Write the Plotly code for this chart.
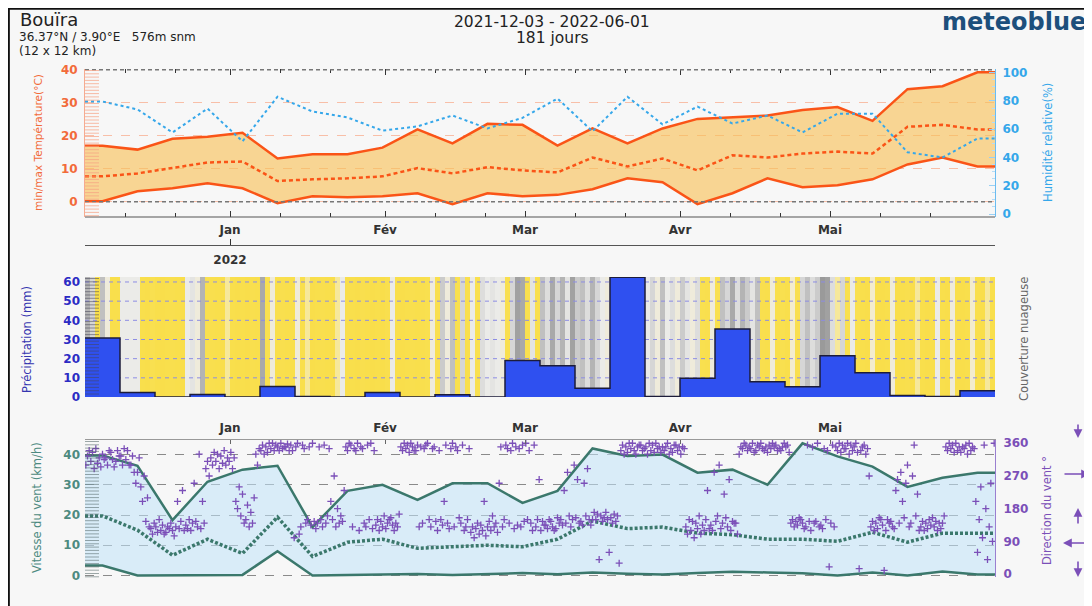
import plotly.graph_objects as go
import pandas as pd

# ---------------- data ----------------
START = pd.Timestamp("2021-12-03")
END = pd.Timestamp("2022-06-03")
N_WEEKS = 26

month_ticks = ["2022-01-01", "2022-02-01", "2022-03-01", "2022-04-01", "2022-05-01"]
month_labels = ["Jan", "Fév", "Mar", "Avr", "Mai"]
minor_ticks = ["2021-12-11", "2021-12-21", "2022-01-11", "2022-01-21", "2022-02-11", "2022-02-21",
               "2022-03-11", "2022-03-21", "2022-04-11", "2022-04-21", "2022-05-11", "2022-05-21"]
year_ticks = ["2022-01-01"]
year_labels = ["2022"]

temp_max = [17.0, 15.8, 19.1, 19.7, 20.9, 13.1, 14.4, 14.4, 16.4, 21.9, 17.7, 23.6, 23.3,
            17.0, 22.2, 17.7, 22.2, 25.1, 25.5, 26.1, 27.8, 28.7, 24.5, 34.1, 35.0, 39.2]
temp_min = [0.2, 3.2, 4.1, 5.6, 4.1, -0.4, 1.7, 1.4, 1.7, 2.6, -0.7, 2.6, 1.7,
            2.1, 3.8, 7.1, 5.9, -0.7, 2.6, 7.1, 4.4, 5.0, 6.8, 11.3, 13.4, 10.7]
temp_mean = [7.7, 8.6, 10.2, 11.9, 12.2, 6.3, 6.8, 7.1, 7.7, 10.2, 8.6, 10.5, 9.5,
             8.9, 13.4, 10.7, 13.1, 9.5, 14.1, 13.4, 14.6, 15.2, 14.6, 22.7, 23.3, 21.9]
humidity = [79.6, 74.0, 57.7, 74.6, 51.4, 83.0, 72.5, 68.3, 59.0, 62.0, 69.7, 60.6, 68.0,
            81.7, 58.5, 83.0, 63.4, 76.0, 64.0, 69.7, 57.7, 71.0, 71.0, 43.7, 40.0, 53.5]

precip = [30.8, 2.3, 0.0, 1.3, 0.0, 5.5, 0.3, 0.0, 2.3, 0.0, 1.2, 0.0, 19.0,
          16.3, 4.6, 62.5, 0.3, 9.8, 35.5, 7.9, 5.4, 21.5, 12.7, 0.8, 0.3, 3.2]

# daily cloud cover (%) estimated from the background stripes
cloud = [
    75, 60, 10, 70, 40, 10, 10, 45, 45, 45, 45,
    10, 5, 25, 10, 5, 10, 15, 10, 5,
    45, 50, 40, 75,
    20, 15, 10, 5, 30, 10, 5, 10, 5, 15, 10,
    80, 20, 40, 10, 15, 10, 10, 40,
    10, 30, 5, 10, 15, 10, 5, 30, 45,
    5, 10, 5, 15, 10, 5, 10, 5, 15, 45,
    10, 5, 10, 15, 10, 15, 20, 40, 15,
    65, 40, 70, 20, 60, 15, 45, 20, 55,
    45, 50, 45, 40, 15, 60, 85, 80, 20, 50, 15,
    70, 55, 80, 60, 75, 50, 85, 65, 70, 55, 75, 60,
    45, 40, 70, 60, 75, 65, 70, 60, 55,
    45, 60, 40, 70, 45, 55, 40, 65, 50, 40, 55,
    20, 15, 40, 20, 70, 60, 80, 55, 75, 65, 50, 70,
    15, 10, 40, 10, 20, 10, 35, 15,
    60, 70, 55, 65, 90, 85, 55, 30, 60, 20, 45, 25,
    10, 5, 35, 10, 5, 10, 40, 5, 10, 15, 5, 30, 10, 5, 10, 45, 10, 5, 40, 10, 5, 10, 35, 10, 5, 30, 10,
]

wind_max = [39.7, 36.3, 18.3, 31.0, 35.0, 36.3, 16.0, 28.0, 30.0, 25.0, 30.5, 30.5, 24.0,
            28.0, 42.0, 39.5, 40.0, 34.0, 35.0, 30.0, 43.7, 39.4, 36.0, 29.3, 32.3, 34.0]
wind_mean = [19.7, 15.0, 6.7, 12.0, 7.3, 19.3, 6.3, 11.0, 12.0, 9.0, 9.5, 10.0, 9.5,
             12.0, 18.0, 15.5, 16.0, 14.0, 13.5, 12.0, 12.0, 11.3, 14.3, 11.0, 14.0, 14.0]
wind_min = [3.3, 0.0, 0.0, 0.0, 0.2, 8.0, 0.0, 0.2, 0.3, 0.5, 0.2, 0.5, 0.8,
            0.4, 1.0, 0.6, 0.3, 0.8, 1.2, 1.0, 0.7, 0.0, 1.0, 0.0, 1.3, 0.3]

# wind direction (deg), three readings per day (04h, 12h, 20h)
wind_dir = [
    (300, 325, 340), (310, 335, 290), (345, 305, 320), (295, 330, 315), (320, 300, 340),
    (335, 315, 295), (310, 340, 325), (325, 300, 345), (315, 340, 300), (300, 325, 280),
    (250, 280, 320), (240, 200, 270), (145, 210, 130), (125, 110, 140), (130, 115, 150),
    (120, 135, 110), (115, 130, 125), (140, 120, 105), (130, 200, 125), (145, 230, 120),
    (135, 125, 150), (120, 140, 250), (145, 130, 330), (125, 200, 140), (290, 310, 270),
    (320, 300, 335), (310, 330, 290), (325, 305, 340), (300, 320, 310), (335, 290, 320),
    (200, 180, 240), (160, 220, 140), (150, 190, 130), (170, 140, 210), (330, 300, 345),
    (340, 355, 330), (350, 335, 360), (345, 360, 340), (355, 350, 340), (360, 345, 350),
    (350, 358, 340), (355, 340, 100), (350, 360, 110), (130, 355, 345), (140, 150, 350),
    (135, 360, 145), (125, 140, 350), (150, 130, 355), (140, 160, 345), (200, 150, 270),
    (130, 180, 140), (160, 145, 230), (350, 340, 360), (355, 130, 345), (340, 360, 120),
    (350, 345, 140), (130, 355, 150), (360, 125, 340), (135, 150, 120), (145, 130, 160),
    (125, 140, 150), (155, 135, 120), (140, 130, 165), (350, 340, 360), (345, 355, 335),
    (360, 350, 340), (340, 355, 130), (350, 140, 345), (355, 360, 150), (130, 345, 350),
    (145, 120, 340), (150, 135, 200), (355, 140, 125), (345, 360, 130), (350, 340, 155),
    (140, 355, 120), (130, 150, 345), (115, 130, 100), (125, 140, 110), (135, 120, 200),
    (105, 130, 145), (120, 160, 130), (140, 115, 250), (350, 130, 150), (355, 345, 140),
    (340, 360, 125), (350, 135, 345), (130, 355, 145), (360, 150, 340), (140, 120, 355),
    (130, 150, 260), (120, 145, 135), (135, 125, 150), (145, 130, 120), (125, 155, 140),
    (150, 135, 230), (140, 280, 160), (130, 150, 300), (155, 260, 140), (145, 135, 250),
    (160, 290, 150), (135, 150, 170), (150, 165, 40), (160, 145, 155), (170, 150, 60),
    (155, 140, 165), (145, 160, 30), (340, 355, 330), (350, 335, 360), (345, 360, 340),
    (330, 350, 355), (355, 340, 345), (350, 330, 360), (340, 355, 335), (360, 345, 350),
    (335, 350, 340), (350, 360, 330), (345, 335, 355), (355, 340, 350), (330, 350, 345),
    (130, 110, 150), (120, 145, 100), (140, 125, 160), (110, 135, 120), (150, 230, 125),
    (135, 120, 280), (145, 160, 300), (125, 140, 220), (155, 130, 260), (120, 145, 140),
    (140, 110, 330), (350, 345, 360), (355, 340, 350), (345, 360, 335), (340, 355, 350),
    (360, 345, 340), (350, 335, 355), (345, 360, 350), (355, 340, 345), (340, 350, 360),
    (350, 355, 335), (140, 150, 130), (145, 135, 155), (150, 140, 125), (130, 355, 145),
    (120, 350, 140), (145, 360, 130), (135, 125, 345), (150, 340, 20), (140, 355, 130),
    (350, 340, 360), (335, 355, 345), (345, 360, 330), (355, 340, 350), (360, 335, 15),
    (340, 350, 355), (330, 345, 270), (130, 145, 120), (140, 125, 155), (150, 135, 10),
    (120, 150, 140), (145, 130, 125), (230, 260, 140), (280, 200, 155), (250, 300, 130),
    (140, 270, 355), (160, 220, 120), (130, 145, 120), (140, 125, 150), (135, 155, 130),
    (145, 120, 140), (125, 140, 160), (350, 340, 360), (345, 355, 335), (360, 340, 350),
    (335, 350, 345), (355, 330, 360), (340, 350, 345), (200, 60, 150), (240, 100, 355),
    (180, 40, 130), (250, 90, 360),
]

# ---------------- derived x positions ----------------
week_mid = [START + pd.Timedelta(days=3.5 + 7 * k) for k in range(N_WEEKS)]
week_edges = [START + pd.Timedelta(days=7 * k) for k in range(N_WEEKS + 1)]
x_ext = [START] + week_mid + [END]


def ext(v):
    return [v[0]] + list(v) + [v[-1]]


day_edges = [START + pd.Timedelta(days=i) for i in range(len(cloud) + 1)]
dir_x, dir_y = [], []
for d, vals in enumerate(wind_dir):
    for h, v in zip((4, 12, 20), vals):
        dir_x.append(START + pd.Timedelta(days=d, hours=h))
        dir_y.append(v)

# ---------------- style / geometry ----------------
F = "DejaVu Sans"
ORANGE = "#fa5417"
ORANGE_TXT = "#f26b3a"
BLUE_H = "#35a7ea"
PREC_TXT = "#2b2bc4"
WIND = "#3b786c"
WIND_TXT = "#4d8a80"
PURPLE = "#7b4fb8"

OFF = 8  # page body margin
W, H = 1092 - OFF, 606 - OFF
L, R, T, B = 85 - OFF, 97, 69 - OFF, 29
PW, PH = W - L - R, H - T - B


def px_x(px):
    return (px - OFF - L) / PW


def px_y(py):
    return (H - B - (py - OFF)) / PH


fig = go.Figure()

# temperature panel
fig.add_trace(go.Scatter(x=x_ext, y=ext(temp_min), mode="lines", line=dict(color=ORANGE, width=2.5),
                         xaxis="x", yaxis="y", showlegend=False, hoverinfo="skip"))
fig.add_trace(go.Scatter(x=x_ext, y=ext(temp_max), mode="lines", line=dict(color=ORANGE, width=2.5),
                         fill="tonexty", fillcolor="rgba(248,192,85,0.62)",
                         xaxis="x", yaxis="y", showlegend=False, hoverinfo="skip"))
fig.add_trace(go.Scatter(x=x_ext, y=ext(temp_mean), mode="lines",
                         line=dict(color=ORANGE, width=2.5, dash="4px,3px"),
                         xaxis="x", yaxis="y", showlegend=False, hoverinfo="skip"))
fig.add_trace(go.Scatter(x=x_ext, y=ext(humidity), mode="lines",
                         line=dict(color=BLUE_H, width=2, dash="3px,3px"),
                         xaxis="x", yaxis="y2", showlegend=False, hoverinfo="skip"))
# empty trace so that the year axis is drawn
fig.add_trace(go.Scatter(x=[START], y=[0], mode="markers", marker=dict(opacity=0, size=1),
                         xaxis="x4", yaxis="y", showlegend=False, hoverinfo="skip"))

# precipitation panel
fig.add_trace(go.Heatmap(x=day_edges, y=[0, 62.6], z=[cloud], zmin=0, zmax=100, showscale=False,
                         colorscale=[[0.0, "#f9de4a"], [0.25, "#f9e050"], [0.33, "#f4ecc8"],
                                     [0.45, "#ebebe8"], [0.6, "#d6d6d6"], [0.8, "#a9a9a9"],
                                     [1.0, "#8a8a8a"]],
                         xaxis="x2", yaxis="y3", hoverinfo="skip"))
gx, gy = [], []
for v in [10, 20, 30, 40, 50, 60]:
    gx += [START, END, None]
    gy += [v, v, None]
fig.add_trace(go.Scatter(x=gx, y=gy, mode="lines", line=dict(color="#8c8ce4", width=1, dash="4px,4px"),
                         xaxis="x2", yaxis="y3", showlegend=False, hoverinfo="skip"))
fig.add_trace(go.Scatter(x=week_edges, y=list(precip) + [precip[-1]], mode="lines",
                         line=dict(color="#1c1c3a", width=1.5, shape="hv"),
                         fill="tozeroy", fillcolor="#2f50f0",
                         xaxis="x2", yaxis="y3", showlegend=False, hoverinfo="skip"))

# wind panel
fig.add_trace(go.Scatter(x=x_ext, y=ext(wind_min), mode="lines", line=dict(color=WIND, width=2.5),
                         xaxis="x3", yaxis="y4", showlegend=False, hoverinfo="skip"))
fig.add_trace(go.Scatter(x=x_ext, y=ext(wind_max), mode="lines", line=dict(color=WIND, width=2.5),
                         fill="tonexty", fillcolor="rgba(193,227,249,0.55)",
                         xaxis="x3", yaxis="y4", showlegend=False, hoverinfo="skip"))
fig.add_trace(go.Scatter(x=x_ext, y=ext(wind_mean), mode="lines",
                         line=dict(color=WIND, width=3.5, dash="3px,2px"),
                         xaxis="x3", yaxis="y4", showlegend=False, hoverinfo="skip"))
fig.add_trace(go.Scatter(x=dir_x, y=dir_y, mode="markers",
                         marker=dict(symbol="cross-thin", size=5, color=PURPLE,
                                     line=dict(color=PURPLE, width=1.3)),
                         xaxis="x3", yaxis="y5", showlegend=False, hoverinfo="skip"))

tick_font = dict(family=F, size=12, color="#333", weight="bold")
xcommon = dict(type="date", range=[START, END], showgrid=False, zeroline=False)

fig.update_layout(
    width=W, height=H,
    margin=dict(l=L, r=R, t=T, b=B),
    paper_bgcolor="#f7f7f7", plot_bgcolor="#f7f7f7",
    font=dict(family=F),
    xaxis=dict(**xcommon, domain=[0, 1], anchor="y", tickvals=month_ticks, ticktext=month_labels,
               ticks="inside", ticklen=6, tickcolor="#333", showline=False,
               mirror="ticks", tickfont=tick_font, ticklabelstandoff=4,
               minor=dict(tickvals=minor_ticks, ticks="inside", ticklen=4, tickcolor="#333")),
    xaxis4=dict(**xcommon, overlaying="x", anchor="free", position=px_y(245), side="bottom",
                tickvals=year_ticks, ticktext=year_labels, ticks="inside", ticklen=6,
                tickcolor="#333", showline=True, linecolor="#555", tickfont=tick_font,
                ticklabelstandoff=4),
    yaxis=dict(domain=[px_y(217), 1], range=[-4.6, 40.2], tickvals=[0, 10, 20, 30, 40],
               showgrid=True, gridcolor="#f8bfa8", griddash="dash", gridwidth=1, zeroline=False,
               showline=True, linecolor="#f6ab90", ticks="", ticklabelstandoff=4,
               tickfont=dict(family=F, size=12, color=ORANGE_TXT, weight="bold")),
    yaxis2=dict(overlaying="y", side="right", range=[-2.1, 102.6], tickvals=[0, 20, 40, 60, 80, 100],
                showgrid=False, zeroline=False, showline=True, linecolor="#6bbcf0",
                ticks="inside", ticklen=6, tickcolor="#9ad0f4", ticklabelstandoff=4,
                minor=dict(tickvals=[v for v in range(5, 100, 5) if v % 20], ticks="inside",
                           ticklen=3, tickcolor="#b5dcf6"),
                tickfont=dict(family=F, size=12, color=BLUE_H, weight="bold")),
    xaxis2=dict(**xcommon, domain=[0, 1], anchor="y3", matches="x", showticklabels=False,
                ticks="", showline=False),
    yaxis3=dict(domain=[px_y(397), px_y(277)], range=[0, 62.6], tickvals=[0, 10, 20, 30, 40, 50, 60],
                showgrid=False, zeroline=False, showline=False, ticks="", ticklabelstandoff=4,
                tickfont=dict(family=F, size=12, color=PREC_TXT, weight="bold")),
    xaxis3=dict(**xcommon, domain=[0, 1], anchor="y4", matches="x", side="top",
                tickvals=month_ticks, ticktext=month_labels, ticks="inside", ticklen=4,
                tickcolor="#666", showline=True, linecolor="#999", tickfont=tick_font,
                ticklabelstandoff=2),
    yaxis4=dict(domain=[0, px_y(440)], range=[-0.5, 44.8], tickvals=[0, 10, 20, 30, 40],
                showgrid=True, gridcolor="#8a8a8a", griddash="dash", zeroline=False,
                showline=False, ticks="", ticklabelstandoff=4,
                tickfont=dict(family=F, size=12, color=WIND_TXT, weight="bold")),
    yaxis5=dict(overlaying="y4", side="right", range=[-8, 369], tickvals=[0, 90, 180, 270, 360],
                showgrid=False, zeroline=False, showline=True, linecolor="#9a7fd0",
                ticks="", ticklabelstandoff=5,
                tickfont=dict(family=F, size=12, color=PURPLE, weight="bold")),
)

shapes = []
# frame (top and left dark rules)
shapes.append(dict(type="line", xref="paper", yref="paper", x0=px_x(8), x1=px_x(1092), y0=px_y(8.6), y1=px_y(8.6),
                   line=dict(color="#111", width=2.5)))
shapes.append(dict(type="line", xref="paper", yref="paper", x0=px_x(8.6), x1=px_x(8.6), y0=px_y(606), y1=px_y(8),
                   line=dict(color="#111", width=2.5)))
# bottom rule of the temperature panel
shapes.append(dict(type="line", xref="paper", yref="paper", x0=0, x1=1, y0=px_y(217), y1=px_y(217),
                   line=dict(color="#555", width=1.2)))
# reference lines 0 and 40 °C
for v in (0, 40):
    shapes.append(dict(type="line", xref="paper", yref="y", x0=0, x1=1, y0=v, y1=v,
                       line=dict(color="#777", width=1.5, dash="4px,3px"), layer="above"))


# left hatching of each panel
def hatch(top, bot, color):
    y = top + 1.5
    while y < bot:
        shapes.append(dict(type="line", xref="paper", yref="paper", x0=0, x1=px_x(99),
                           y0=px_y(y), y1=px_y(y), line=dict(color=color, width=1), layer="above"))
        y += 3.3


hatch(69, 217, "rgba(246,160,130,0.7)")
hatch(277, 397, "rgba(70,70,90,0.55)")
hatch(440, 577, "rgba(80,100,100,0.55)")
fig.update_layout(shapes=shapes)

ann = []


def text(x, y, s, size, color, xanchor="left", angle=0, weight="normal"):
    ann.append(dict(x=px_x(x), y=px_y(y), xref="paper", yref="paper", text=s, showarrow=False,
                    xanchor=xanchor, yanchor="middle", textangle=angle,
                    font=dict(family=F, size=size, color=color, weight=weight)))


text(18, 20, "Bouïra", 18, "#222")
text(17, 37, "36.37°N / 3.90°E   576m snm", 12, "#222")
text(17, 51, "(12 x 12 km)", 12, "#222")
text(552, 22, "2021-12-03 - 2022-06-01", 15.5, "#222", xanchor="center")
text(552, 38, "181 jours", 15.5, "#222", xanchor="center")
text(1088, 22, "meteoblue", 24, "#1d4f7c", xanchor="right", weight="bold")

text(38, 143, "min/max Température(°C)", 10.5, ORANGE_TXT, xanchor="center", angle=-90)
text(1048, 143, "Humidité relative(%)", 11.5, BLUE_H, xanchor="center", angle=-90)
text(27, 340, "Précipitation (mm)", 11.5, "#3535b0", xanchor="center", angle=-90)
text(1024, 339, "Couverture nuageuse", 11.5, "#666", xanchor="center", angle=-90)
text(37, 508, "Vitesse du vent (km/h)", 11.5, WIND_TXT, xanchor="center", angle=-90)
text(1047, 511, "Direction du vent °", 11.5, PURPLE, xanchor="center", angle=-90)

# wind direction arrows beside the direction axis
arrows = [(1078, 438, 0, -15), (1090, 474, -27, 0), (1078, 508, 0, 17), (1063, 543, 27, 0), (1078, 577, 0, -17)]
for hx, hy, ax, ay in arrows:
    ann.append(dict(x=px_x(hx), y=px_y(hy), xref="paper", yref="paper", text="", showarrow=True,
                    ax=ax, ay=ay, arrowhead=2, arrowsize=1.1, arrowwidth=1.6, arrowcolor=PURPLE))

fig.update_layout(annotations=ann)

fig.write_html("out.html")
